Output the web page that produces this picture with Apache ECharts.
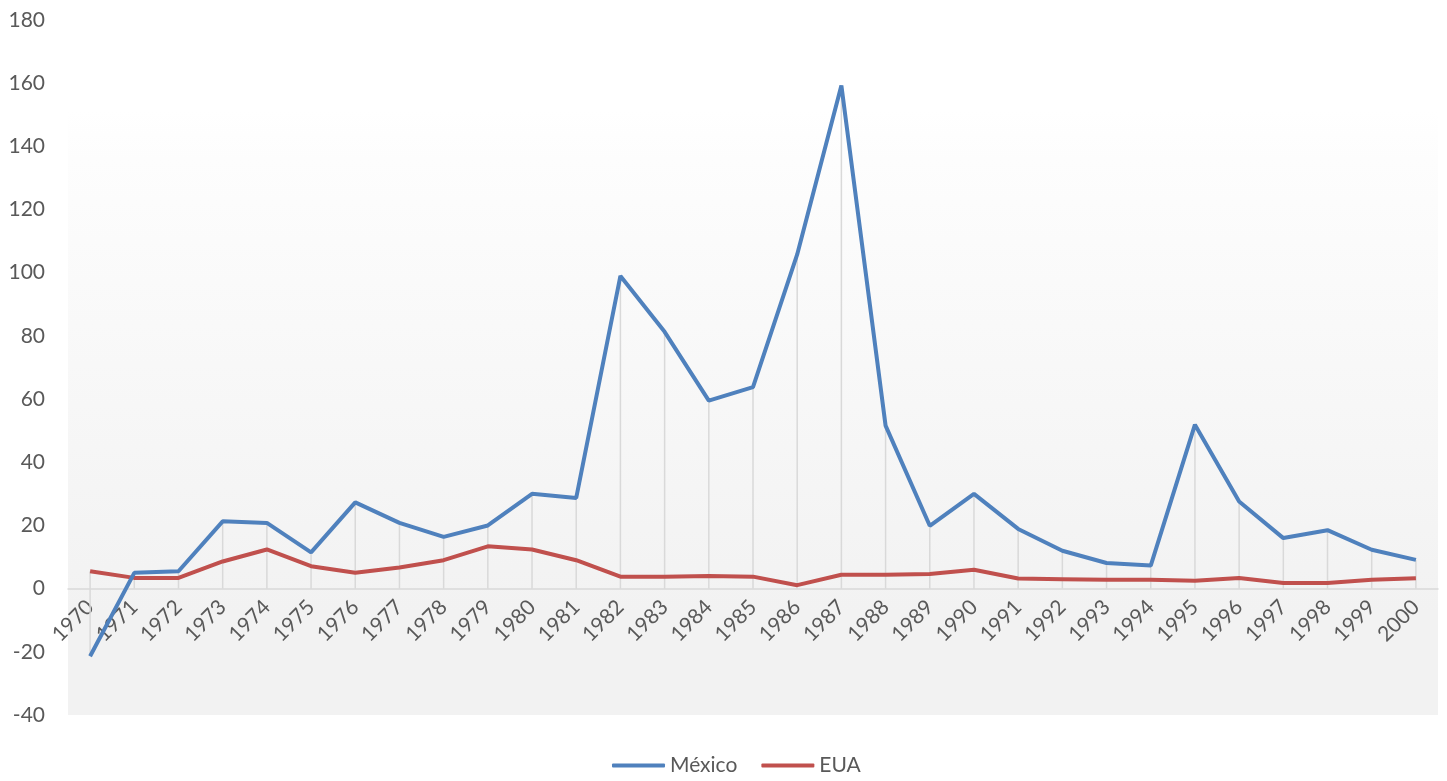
<!DOCTYPE html>
<html>
<head>
<meta charset="utf-8">
<script src="https://cdn.jsdelivr.net/npm/echarts@6/dist/echarts.min.js"></script>
<style>
html,body{margin:0;padding:0;background:#fff;}
#chart{width:1447px;height:781px;}
</style>
</head>
<body>
<div id="chart"></div>
<script>
const years = ['1970','1971','1972','1973','1974','1975','1976','1977','1978','1979','1980','1981','1982','1983','1984','1985','1986','1987','1988','1989','1990','1991','1992','1993','1994','1995','1996','1997','1998','1999','2000'];
const mexico = [-21.4, 5.0, 5.5, 21.3, 20.8, 11.5, 27.3, 20.8, 16.4, 20.0, 30.0, 28.7, 99.0, 81.3, 59.5, 63.8, 105.8, 159.3, 51.6, 19.9, 30.0, 18.9, 12.0, 8.1, 7.3, 51.9, 27.6, 16.0, 18.5, 12.3, 9.1];
const eua = [5.5, 3.4, 3.4, 8.6, 12.4, 7.1, 5.0, 6.7, 9.0, 13.4, 12.4, 9.0, 3.8, 3.8, 4.0, 3.8, 1.1, 4.4, 4.4, 4.6, 6.0, 3.2, 3.0, 2.8, 2.8, 2.5, 3.4, 1.8, 1.8, 2.8, 3.3];
const seriesNames = ['México', 'EUA'];

const dropData = years.map((y, i) => {
  const vals = [mexico[i], eua[i], 0];
  return [i, Math.max(...vals), Math.min(...vals)];
});

const chart = echarts.init(document.getElementById('chart'));
const font = 'Lato, "Open Sans", sans-serif';
const GRID = { left: 68, right: 9, top: 20, bottom: 66 };
chart.setOption({
  animation: false,
  textStyle: { fontFamily: font },
  grid: {
    left: GRID.left, right: GRID.right, top: GRID.top, bottom: GRID.bottom,
    show: true,
    borderWidth: 0,
    backgroundColor: new echarts.graphic.LinearGradient(0, 0, 0, 1, [
      { offset: 0, color: '#ffffff' },
      { offset: 0.13, color: '#ffffff' },
      { offset: 0.2, color: '#fdfdfd' },
      { offset: 0.85, color: '#f2f2f2' },
      { offset: 1, color: '#f2f2f2' }
    ])
  },
  legend: {
    bottom: 0,
    left: 607,
    data: seriesNames.map(n => ({ name: n, icon: 'roundRect' })),
    itemWidth: 53,
    itemHeight: 4,
    itemGap: 24,
    textStyle: { fontSize: 21, color: '#595959', fontFamily: font }
  },
  xAxis: {
    type: 'category',
    data: years,
    boundaryGap: true,
    position: 'bottom',
    axisLine: { onZero: false, lineStyle: { color: '#d9d9d9', width: 1.5 } },
    axisTick: { show: false },
    axisLabel: { rotate: 45, interval: 0, fontSize: 21, color: '#595959', margin: 15, fontFamily: font },
    splitLine: { show: false }
  },
  yAxis: {
    type: 'value',
    min: -40, max: 180, interval: 20,
    axisLine: { show: false },
    axisTick: { show: false },
    splitLine: { show: false },
    axisLabel: { fontSize: 21, color: '#595959', margin: 23, fontFamily: font }
  },
  series: [
    {
      type: 'custom',
      name: 'drop',
      silent: true,
      z: 1,
      data: dropData,
      renderItem: function (params, api) {
        const top = api.coord([api.value(0), api.value(1)]);
        const bot = api.coord([api.value(0), api.value(2)]);
        return {
          type: 'line',
          shape: { x1: top[0], y1: top[1], x2: bot[0], y2: bot[1] },
          style: { stroke: '#d9d9d9', lineWidth: 1.5 }
        };
      }
    },
    {
      name: 'EUA',
      type: 'line',
      data: eua,
      symbol: 'none',
      z: 3,
      lineStyle: { color: '#c0504d', width: 4 },
      itemStyle: { color: '#c0504d' }
    },
    {
      name: 'México',
      type: 'line',
      data: mexico,
      symbol: 'none',
      z: 4,
      lineStyle: { color: '#4f81bd', width: 4 },
      itemStyle: { color: '#4f81bd' }
    }
  ]
});
// move the category axis (line + labels) up to the value 0, using the library's own scale
const zeroY = chart.convertToPixel({ yAxisIndex: 0 }, 0);
const bottomY = chart.getHeight() - GRID.bottom;
chart.setOption({ xAxis: { offset: zeroY - bottomY } });
</script>
</body>
</html>
